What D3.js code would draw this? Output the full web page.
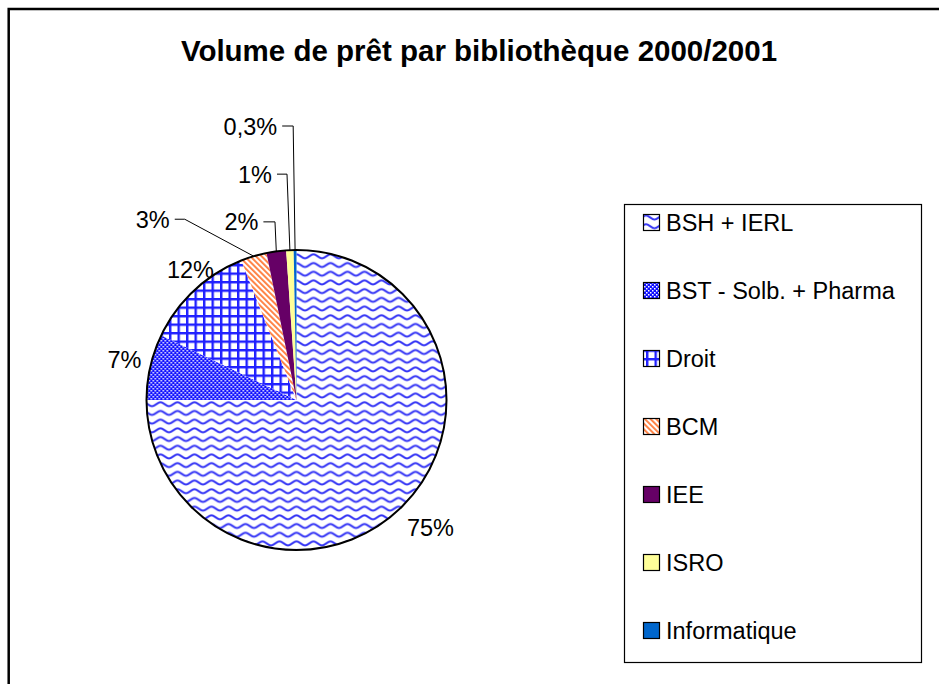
<!DOCTYPE html>
<html>
<head>
<meta charset="utf-8">
<script src="https://cdn.jsdelivr.net/npm/d3@7"></script>
<style>
  html, body { margin: 0; padding: 0; background: #fff; }
  svg { display: block; font-family: Arial, "Liberation Sans", sans-serif; }
</style>
</head>
<body>
<svg id="chart" width="939" height="684"></svg>
<script>
// ---- data ----
const title = "Volume de prêt par bibliothèque 2000/2001";
const categories = ["BSH + IERL", "BST - Solb. + Pharma", "Droit", "BCM", "IEE", "ISRO", "Informatique"];
const values = [75.0, 7.1, 11.9, 2.8, 2.1, 0.8, 0.3];

// ---- layout / style (not data) ----
const W = 939, H = 684;
const cx = 296.5, cy = 400, R = 150;
const fills = ["url(#pWave)", "url(#pCheck)", "url(#pGrid)", "url(#pDiag)", "#660066", "#FFFF99", "#0066CC"];
// label placement for large slices: text centre offset from pie centre
const bigLabelOffset = { 0: [134, 127], 1: [-172, -41], 2: [-106, -131] };
// leader-line labels: knee offset from arc point, horizontal run length
const leaderLayout = { 3: [-69, -37, 10], 4: [-1.3, -29.5, 11.6], 5: [-2.9, -76, 10], 6: [-1.9, -124, 11] };

const fmt = v => Math.round(v) >= 1 ? Math.round(v) + "%" : String(v).replace(".", ",") + "%";

const svg = d3.select("#chart");
const defs = svg.append("defs");

// wave pattern
const pw = defs.append("pattern").attr("id", "pWave").attr("patternUnits", "userSpaceOnUse")
  .attr("width", 17).attr("height", 8.7);
pw.append("rect").attr("width", 17).attr("height", 8.7).attr("fill", "#fff");
pw.append("path").attr("d", "M-8.5,6.3 C-5.7,6.3 -2.8,2.1 0,2.1 C2.8,2.1 5.7,6.3 8.5,6.3 C11.3,6.3 14.2,2.1 17,2.1 C19.8,2.1 22.7,6.3 25.5,6.3")
  .attr("fill", "none").attr("stroke", "#3333f5").attr("stroke-width", 2);

// checker pattern (white dots on blue)
const pc = defs.append("pattern").attr("id", "pCheck").attr("patternUnits", "userSpaceOnUse")
  .attr("width", 4).attr("height", 4);
pc.append("rect").attr("width", 4).attr("height", 4).attr("fill", "#1010ff");
pc.append("rect").attr("width", 1.5).attr("height", 1.5).attr("fill", "#fff");
pc.append("rect").attr("x", 2).attr("y", 2).attr("width", 1.5).attr("height", 1.5).attr("fill", "#fff");

// grid pattern
const pg = defs.append("pattern").attr("id", "pGrid").attr("patternUnits", "userSpaceOnUse")
  .attr("width", 8.5).attr("height", 8.5);
pg.append("rect").attr("width", 8.5).attr("height", 8.5).attr("fill", "#fff");
pg.append("rect").attr("width", 8.5).attr("height", 2.4).attr("fill", "#1f1fff");
pg.append("rect").attr("width", 2.4).attr("height", 8.5).attr("fill", "#1f1fff");

// diagonal stripes pattern
const pd = defs.append("pattern").attr("id", "pDiag").attr("patternUnits", "userSpaceOnUse")
  .attr("width", 4).attr("height", 4).attr("patternTransform", "rotate(-45)");
pd.append("rect").attr("width", 4).attr("height", 4).attr("fill", "#fff");
pd.append("rect").attr("width", 1.9).attr("height", 4).attr("fill", "#ff8040");

// outer frame
svg.append("rect").attr("x", 8.7).attr("y", 9).attr("width", 1000).attr("height", 1000)
  .attr("fill", "none").attr("stroke", "#000").attr("stroke-width", 2.5);

// title
svg.append("text").attr("x", 479).attr("y", 61).attr("text-anchor", "middle")
  .attr("font-size", 29.5).attr("font-weight", "bold").attr("fill", "#000").text(title);

// pie
const pie = d3.pie().sort(null).value(d => d)(values);
const arc = d3.arc().innerRadius(0).outerRadius(R);
const g = svg.append("g").attr("transform", `translate(${cx},${cy})`);
g.selectAll("path.slice").data(pie).join("path").attr("class", "slice")
  .attr("d", arc).attr("fill", (d, i) => fills[i]);
g.append("circle").attr("r", R).attr("fill", "none").attr("stroke", "#000").attr("stroke-width", 2);

// labels
const LFS = 23.5;
pie.forEach((d, i) => {
  const txt = fmt(values[i]);
  if (bigLabelOffset[i]) {
    const [ox, oy] = bigLabelOffset[i];
    g.append("text").attr("x", ox).attr("y", oy + 8.5).attr("text-anchor", "middle")
      .attr("font-size", LFS).attr("fill", "#000").text(txt);
  } else {
    const mid = (d.startAngle + d.endAngle) / 2;
    const ax = R * Math.sin(mid), ay = -R * Math.cos(mid);
    const [kx, ky, run] = leaderLayout[i];
    const kneeX = ax + kx, kneeY = ay + ky;
    g.append("path").attr("d", `M${kneeX - run},${kneeY} L${kneeX},${kneeY} L${ax},${ay}`)
      .attr("fill", "none").attr("stroke", "#000").attr("stroke-width", 1);
    g.append("text").attr("x", kneeX - run - 5).attr("y", kneeY + 8.5).attr("text-anchor", "end")
      .attr("font-size", LFS).attr("fill", "#000").text(txt);
  }
});

// legend
const lg = svg.append("g");
lg.append("rect").attr("x", 624.5).attr("y", 204.5).attr("width", 297).attr("height", 458)
  .attr("fill", "#fff").attr("stroke", "#000").attr("stroke-width", 1.2);
const rowY = d3.scalePoint().domain(categories).range([222, 630]);
const items = lg.selectAll("g.item").data(categories).join("g").attr("class", "item")
  .attr("transform", d => `translate(0,${rowY(d)})`);
items.append("rect").attr("x", 643.5).attr("y", -7.5).attr("width", 16).attr("height", 16)
  .attr("fill", (d, i) => fills[i]).attr("stroke", "#000").attr("stroke-width", 1.2);
items.append("text").attr("x", 666).attr("y", 8.5).attr("font-size", LFS).attr("fill", "#000").text(d => d);
</script>
</body>
</html>
